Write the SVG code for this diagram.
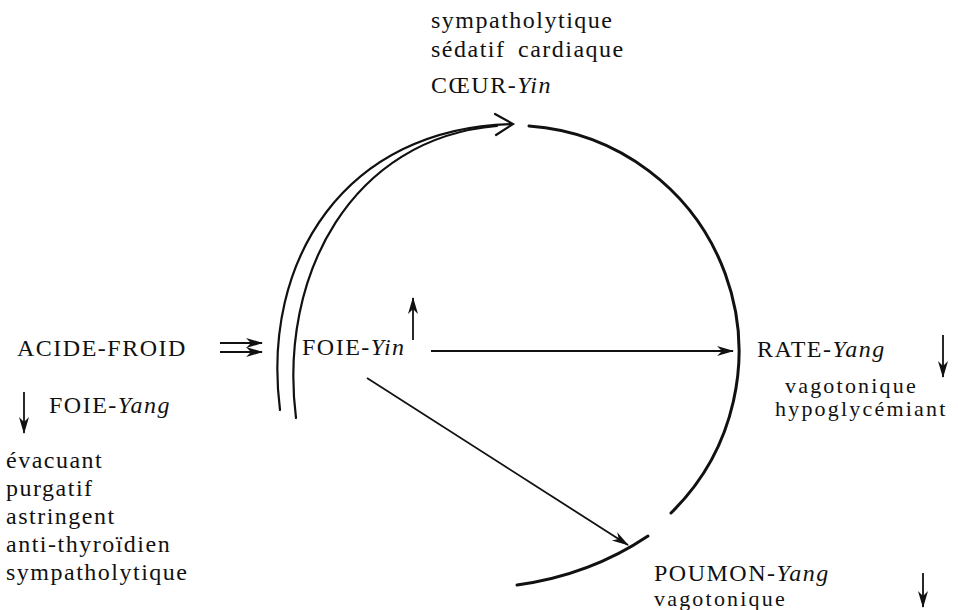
<svg xmlns="http://www.w3.org/2000/svg" width="958" height="610" viewBox="0 0 958 610">
<style>
  text { font-family: "Liberation Serif", "Times New Roman", serif; font-size: 24px; letter-spacing: 1.5px; fill: #111; }
  .it { font-style: italic; }
  .sm { font-size: 22px; letter-spacing: 2.2px; }
  .arc { fill: none; stroke: #111; stroke-width: 3; stroke-linecap: round; }
  .dbl { fill: none; stroke: #111; stroke-width: 2.2; stroke-linecap: round; }
  .arr { fill: none; stroke: #111; stroke-width: 1.8; }
</style>
<defs>
  <marker id="ah" markerUnits="userSpaceOnUse" viewBox="-18 -6 20 12" refX="0" refY="0" markerWidth="20" markerHeight="12" orient="auto">
    <path d="M1,0 L-16,-5 L-11,0 L-16,5 Z" fill="#111"/>
  </marker>
</defs>
<rect width="958" height="610" fill="#fff"/>

<g id="coeur-yin">
  <text x="431" y="28">sympatholytique</text>
  <text x="431" y="57" word-spacing="5">sédatif cardiaque</text>
  <text x="431" y="93">CŒUR-<tspan class="it">Yin</tspan></text>
</g>

<g id="acide-froid">
  <text x="17" y="356">ACIDE-FROID</text>
</g>

<g id="foie-yang">
  <text x="49" y="413">FOIE-<tspan class="it">Yang</tspan></text>
  <text x="6" y="468">évacuant</text>
  <text x="6" y="496">purgatif</text>
  <text x="6" y="524">astringent</text>
  <text x="6" y="552">anti-thyroïdien</text>
  <text x="6" y="580">sympatholytique</text>
</g>

<g id="foie-yin">
  <text x="302" y="355">FOIE-<tspan class="it">Yin</tspan></text>
</g>

<g id="rate-yang">
  <text x="757" y="357">RATE-<tspan class="it">Yang</tspan></text>
  <text class="sm" x="785" y="393">vagotonique</text>
  <text class="sm" x="775" y="416">hypoglycémiant</text>
</g>

<g id="poumon-yang">
  <text x="654" y="581">POUMON-<tspan class="it">Yang</tspan></text>
  <text class="sm" x="654" y="606">vagotonique</text>
</g>

<g id="connectors">
  <path class="arc" d="M529,126 A226,226 0 0 1 671,513"/>
  <path class="arc" d="M517,585 Q590,575 648,536"/>
  <path class="dbl" d="M280,410 C261,260 345,128 512,124"/>
  <path class="dbl" d="M296,418 C278,275 352,138 497,126"/>
  <path class="dbl" d="M495,114 L513,124 L496,135"/>
  <line class="arr" x1="220" y1="343" x2="262" y2="343" marker-end="url(#ah)"/>
  <line class="arr" x1="220" y1="352" x2="262" y2="352" marker-end="url(#ah)"/>
  <line class="arr" x1="24" y1="392" x2="24" y2="433" marker-end="url(#ah)"/>
  <line class="arr" x1="413" y1="340" x2="413" y2="298" marker-end="url(#ah)"/>
  <line class="arr" x1="431" y1="351" x2="733" y2="351" marker-end="url(#ah)"/>
  <line class="arr" x1="367" y1="378" x2="628" y2="545" marker-end="url(#ah)"/>
  <line class="arr" x1="943" y1="335" x2="943" y2="377" marker-end="url(#ah)"/>
  <line class="arr" x1="923" y1="573" x2="923" y2="607" marker-end="url(#ah)"/>
</g>
</svg>
